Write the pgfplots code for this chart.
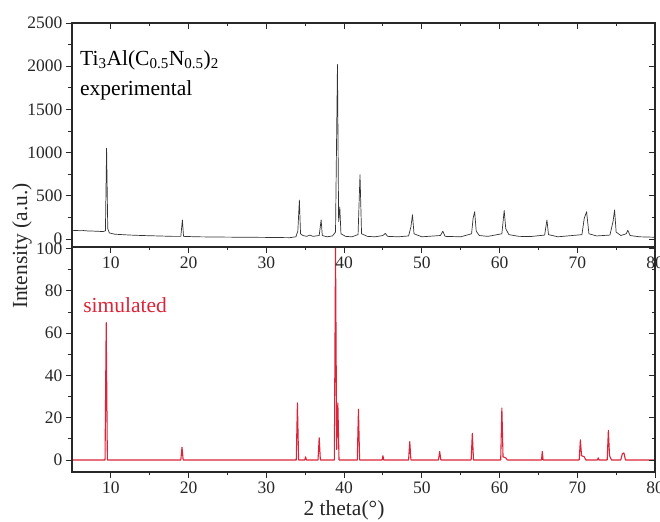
\documentclass[border=0pt]{standalone}
\usepackage{fontspec}
\setmainfont{Liberation Serif}
\usepackage{pgfplots}
\pgfplotsset{compat=1.18}
\definecolor{simred}{RGB}{220,35,55}
\definecolor{framec}{RGB}{40,40,40}

\pgfplotsset{
  panel/.style={
    scale only axis, width=583bp,
    xmin=5, xmax=80,
    xtick={10,20,...,80}, minor x tick num=1,
    tick label style={font=\fontsize{17.5bp}{20bp}\selectfont, text=black!85},
    /pgf/number format/assume math mode=true,
    /pgf/number format/1000 sep={},
    major tick length=6bp, minor tick length=3.5bp,
    axis line style={line width=1.1pt, framec},
    every tick/.style={line width=0.9pt, framec},
    tick align=outside, xtick pos=left, ytick pos=left,
    clip=true,
  },
  overlaypanel/.style={
    scale only axis, width=583bp,
    xmin=5, xmax=80,
    xtick={10,20,...,80}, minor x tick num=1,
    major tick length=6bp, minor tick length=3.5bp,
    axis line style={line width=1.1pt, framec},
    every tick/.style={line width=0.9pt, framec},
    tick align=inside, xtick pos=right, ytick pos=right,
    xticklabels={}, yticklabels={},
  },
}

\begin{document}
\begin{tikzpicture}[x=1bp,y=1bp]
% ---------------- bottom panel (simulated) ----------------
\begin{axis}[panel, at={(72bp,50bp)}, anchor=south west, height=225bp,
  ymin=-5.7, ymax=100.8, ytick={0,20,...,100}, minor y tick num=1]
\addplot[simred, line width=1.1pt, line join=round] coordinates {
(5,0) (9.25,0) (9.4,65) (9.55,0)
(19.0,0) (19.15,6) (19.3,0)
(33.85,0) (34.0,27) (34.15,0)
(34.95,0) (35.05,1.5) (35.15,0)
(36.65,0) (36.8,10.5) (36.95,0)
(38.75,0) (38.9,101) (39.05,5) (39.2,27) (39.35,0)
(41.7,0) (41.85,24) (42.0,0)
(44.9,0) (45.0,2) (45.1,0)
(48.3,0) (48.45,8.7) (48.6,0)
(52.15,0) (52.3,4) (52.45,0)
(56.35,0) (56.5,12.6) (56.65,0)
(60.15,0) (60.3,24.6) (60.45,1.5) (60.8,1) (61.0,0)
(65.4,0) (65.5,4) (65.6,0)
(70.25,0) (70.4,9.5) (70.55,2) (70.9,1.5) (71.1,0)
(72.6,0) (72.7,1) (72.8,0)
(73.85,0) (74.0,14) (74.15,2) (74.4,0)
(75.6,0) (75.8,3) (76.0,3.3) (76.2,0)
(80,0)
};
\node[anchor=west, text=simred, font=\fontsize{21.5bp}{24bp}\selectfont] at (axis cs:6.0,73.4) {simulated};
\end{axis}
\begin{axis}[overlaypanel, at={(72bp,50bp)}, anchor=south west, height=225bp,
  ymin=-5.7, ymax=100.8, ytick={0,20,...,100}, minor y tick num=1]
\end{axis}

% ---------------- top panel (experimental) ----------------
\begin{axis}[panel, at={(72bp,275bp)}, anchor=south west, height=224bp,
  ymin=-93, ymax=2500, ytick={0,500,...,2500}, minor y tick num=1]
\addplot[black!80, line width=0.7pt, line join=round] coordinates {
(5.0,100) (5.5,98) (6.0,96) (6.5,97) (7.0,93) (7.5,92) (8.0,90) (8.5,88) (9.0,85)
(9.3,95) (9.45,1050) (9.6,120) (9.8,70) (10.5,55) (11.5,50) (12.5,45) (14,40) (16,35) (18,30)
(19.0,30) (19.2,220) (19.35,30) (21,25) (24,22) (27,20) (30,18) (33,15)
(33.8,25) (34.05,90) (34.25,450) (34.4,60) (34.7,40) (35.2,30) (35.6,45) (36,30)
(36.8,40) (37.05,220) (37.2,40) (37.8,25) (38.5,35) (38.9,80) (39.15,2020) (39.3,200)
(39.45,370) (39.6,60) (40.2,30) (41,25) (41.8,50) (42.05,745) (42.25,60) (43,30) (44,25)
(45.0,40) (45.3,65) (45.6,30) (47,25) (48.3,35) (48.6,140) (48.8,280) (49.0,60) (50,25)
(52.4,40) (52.7,90) (53.0,30) (55,25) (56.4,60) (56.6,240) (56.8,315) (57.0,90) (57.4,40)
(58.5,30) (60.3,60) (60.6,330) (60.8,120) (61.2,50) (62.5,30) (64,28)
(65.8,45) (66.1,220) (66.3,50) (67.5,25) (70.6,50) (70.9,240) (71.2,315) (71.5,60)
(72.5,35) (74.2,45) (74.6,200) (74.8,337) (75.0,80) (75.6,40) (76.3,60) (76.5,100)
(76.8,40) (78,25) (80,20)
};
\node[anchor=west, font=\fontsize{21.5bp}{24bp}\selectfont] at (axis cs:5.6,2072) {Ti\textsubscript{3}Al(C\textsubscript{0.5}N\textsubscript{0.5})\textsubscript{2}};
\node[anchor=west, font=\fontsize{21.5bp}{24bp}\selectfont] at (axis cs:5.6,1724) {experimental};
\end{axis}
\begin{axis}[overlaypanel, at={(72bp,275bp)}, anchor=south west, height=224bp,
  ymin=-93, ymax=2500, ytick={0,500,...,2500}, minor y tick num=1]
\end{axis}

% ---------------- shared labels ----------------
\node[rotate=90, font=\fontsize{21.5bp}{24bp}\selectfont, text=black!85] at (22bp,276bp) {Intensity (a.u.)};
\node[font=\fontsize{21.5bp}{24bp}\selectfont, text=black!85] at (344bp,12bp) {2 theta(°)};

\pgfresetboundingbox
\path (0,0) rectangle (660bp,522bp);
\end{tikzpicture}
\end{document}
